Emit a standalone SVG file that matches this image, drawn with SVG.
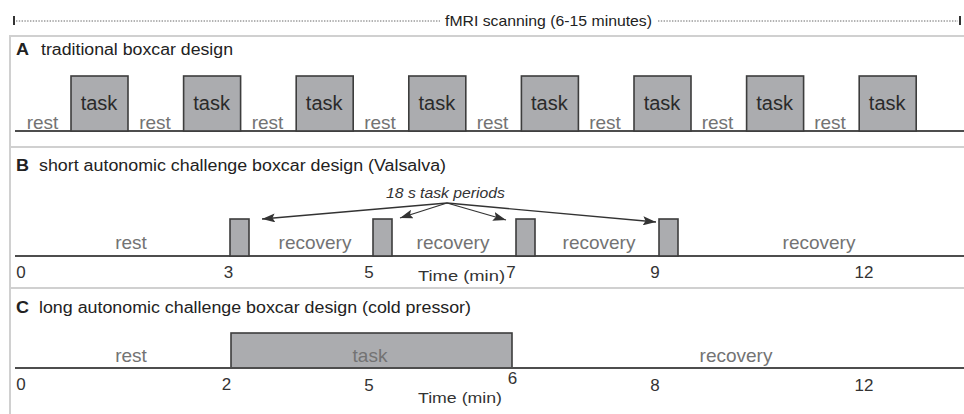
<svg xmlns="http://www.w3.org/2000/svg" width="964" height="414" viewBox="0 0 964 414">
  <style>
    text { font-family: "Liberation Sans", Arial, sans-serif; }
    .frame { stroke: #d0d0d0; stroke-width: 2; fill: none; }
    .axis { stroke: #4d4d4d; stroke-width: 2; }
    .box { fill: #abacaf; stroke: #3d3d3d; stroke-width: 1.6; }
    .title { font-size: 16px; fill: #222; }
    .key { font-weight: bold; }
    .task { font-size: 20px; fill: #2a2a2a; text-anchor: middle; }
    .phase { font-size: 19px; fill: #737373; text-anchor: middle; }
    .tick { font-size: 17px; fill: #333; text-anchor: middle; }
    .time { font-size: 15px; fill: #333; }
    .dots { stroke: #666; stroke-width: 1; stroke-dasharray: 1.4 1.4; }
    .arrow { stroke: #333; stroke-width: 1.3; fill: none; marker-end: url(#head); }
  </style>
  <defs>
    <marker id="head" viewBox="0 0 13 9" refX="13" refY="4.5" markerWidth="13" markerHeight="9" markerUnits="userSpaceOnUse" orient="auto">
      <path d="M0,0 L13,4.5 L0,9 L2.5,4.5 Z" fill="#333"/>
    </marker>
  </defs>
  <rect width="964" height="414" fill="#fff"/>

  <!-- scan duration bar -->
  <g id="scan-header">
    <line x1="14" y1="16" x2="14" y2="25" stroke="#333" stroke-width="2"/>
    <line class="dots" x1="16" y1="21" x2="440" y2="21"/>
    <text x="445" y="26" font-size="15" fill="#222" textLength="207" lengthAdjust="spacingAndGlyphs">fMRI scanning (6-15 minutes)</text>
    <line class="dots" x1="658" y1="21" x2="958" y2="21"/>
    <line x1="960" y1="16" x2="960" y2="25" stroke="#333" stroke-width="2"/>
  </g>

  <!-- panel frames -->
  <g id="frames">
    <polyline class="frame" points="964,36 10,36 10,414"/>
    <line class="frame" x1="10" y1="147" x2="964" y2="147"/>
    <line class="frame" x1="10" y1="288" x2="964" y2="288"/>
  </g>

  <!-- A: traditional boxcar -->
  <g id="panel-a">
    <text class="title key" x="16" y="55" textLength="13" lengthAdjust="spacingAndGlyphs">A</text>
    <text class="title" x="41" y="55" textLength="192" lengthAdjust="spacingAndGlyphs">traditional boxcar design</text>
    <line class="axis" x1="15" y1="131" x2="964" y2="131"/>
    <g id="a-blocks">
      <rect class="box" x="71" y="76" width="57" height="55"/>
      <rect class="box" x="183.6" y="76" width="57" height="55"/>
      <rect class="box" x="296.2" y="76" width="57" height="55"/>
      <rect class="box" x="408.8" y="76" width="57" height="55"/>
      <rect class="box" x="521.4" y="76" width="57" height="55"/>
      <rect class="box" x="634" y="76" width="57" height="55"/>
      <rect class="box" x="746.6" y="76" width="57" height="55"/>
      <rect class="box" x="859.2" y="76" width="57" height="55"/>
    </g>
    <g id="a-task-labels">
      <text class="task" x="99" y="110">task</text>
      <text class="task" x="211.6" y="110">task</text>
      <text class="task" x="324.2" y="110">task</text>
      <text class="task" x="436.8" y="110">task</text>
      <text class="task" x="549.4" y="110">task</text>
      <text class="task" x="662" y="110">task</text>
      <text class="task" x="774.6" y="110">task</text>
      <text class="task" x="887.2" y="110">task</text>
    </g>
    <g id="a-rest-labels">
      <text class="phase" x="42.5" y="129">rest</text>
      <text class="phase" x="155" y="129">rest</text>
      <text class="phase" x="267.5" y="129">rest</text>
      <text class="phase" x="380" y="129">rest</text>
      <text class="phase" x="492.5" y="129">rest</text>
      <text class="phase" x="605" y="129">rest</text>
      <text class="phase" x="717.5" y="129">rest</text>
      <text class="phase" x="830" y="129">rest</text>
    </g>
  </g>

  <!-- B: short autonomic challenge (Valsalva) -->
  <g id="panel-b">
    <text class="title key" x="16" y="171" textLength="13" lengthAdjust="spacingAndGlyphs">B</text>
    <text class="title" x="39" y="171" textLength="407" lengthAdjust="spacingAndGlyphs">short autonomic challenge boxcar design (Valsalva)</text>
    <line class="axis" x1="15" y1="256" x2="964" y2="256"/>
    <rect class="box" x="230" y="219" width="19" height="37"/>
    <rect class="box" x="373" y="219" width="19" height="37"/>
    <rect class="box" x="516" y="219" width="19" height="37"/>
    <rect class="box" x="659" y="219" width="19" height="37"/>
    <text class="phase" x="131" y="249">rest</text>
    <text class="phase" x="315" y="249">recovery</text>
    <text class="phase" x="453" y="249">recovery</text>
    <text class="phase" x="599" y="249">recovery</text>
    <text class="phase" x="819" y="249">recovery</text>
    <text x="386" y="198" font-size="14" font-style="italic" fill="#333" textLength="119" lengthAdjust="spacingAndGlyphs">18 s task periods</text>
    <text class="tick" x="21" y="278">0</text>
    <text class="tick" x="228.5" y="278">3</text>
    <text class="tick" x="369" y="278">5</text>
    <text class="tick" x="511" y="278">7</text>
    <text class="tick" x="655" y="278">9</text>
    <text class="tick" x="864" y="278">12</text>
    <text class="time" x="418" y="281" textLength="87" lengthAdjust="spacingAndGlyphs">Time (min)</text>
  </g>

  <!-- pointers from the task-period note to each Valsalva block -->
  <g id="connectors">
    <line class="arrow" x1="447" y1="203" x2="262" y2="219"/>
    <line class="arrow" x1="447" y1="203" x2="400" y2="218"/>
    <line class="arrow" x1="447" y1="203" x2="506" y2="220"/>
    <line class="arrow" x1="447" y1="203" x2="656" y2="222"/>
  </g>

  <!-- C: long autonomic challenge (cold pressor) -->
  <g id="panel-c">
    <text class="title key" x="16" y="313" textLength="13" lengthAdjust="spacingAndGlyphs">C</text>
    <text class="title" x="39" y="313" textLength="432" lengthAdjust="spacingAndGlyphs">long autonomic challenge boxcar design (cold pressor)</text>
    <rect class="box" x="231" y="333" width="281" height="35"/>
    <line class="axis" x1="15" y1="368" x2="964" y2="368"/>
    <text class="phase" x="131" y="362">rest</text>
    <text class="phase" x="370" y="362">task</text>
    <text class="phase" x="736" y="362">recovery</text>
    <text class="tick" x="21" y="390">0</text>
    <text class="tick" x="226.5" y="390">2</text>
    <text class="tick" x="369" y="391">5</text>
    <text class="tick" x="512.5" y="384">6</text>
    <text class="tick" x="655" y="391">8</text>
    <text class="tick" x="864" y="391">12</text>
    <text class="time" x="418" y="403" textLength="84" lengthAdjust="spacingAndGlyphs">Time (min)</text>
  </g>
</svg>
